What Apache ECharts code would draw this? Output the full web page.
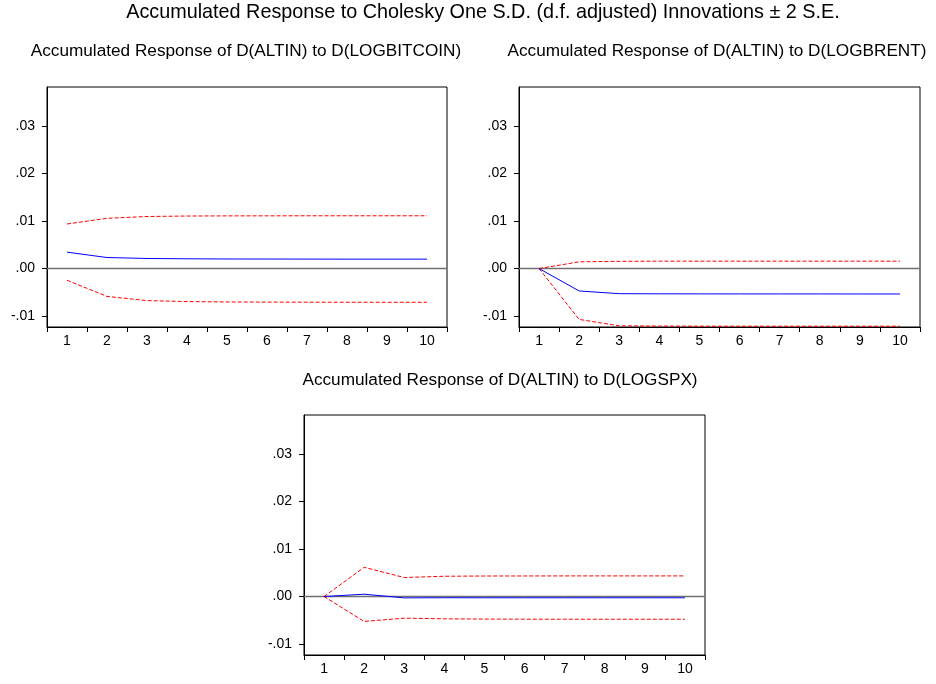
<!DOCTYPE html>
<html>
<head>
<meta charset="utf-8">
<script src="https://cdn.jsdelivr.net/npm/echarts@6/dist/echarts.min.js"></script>
<style>
html,body{margin:0;padding:0;background:#fff;}
#chart{width:936px;height:684px;}
</style>
</head>
<body>
<div id="chart"></div>
<script>
// ---- Data ----
var categories = ['1','2','3','4','5','6','7','8','9','10'];
var yTickValues = [-0.01, 0, 0.01, 0.02, 0.03];
var yTickLabels = ['-.01', '.00', '.01', '.02', '.03'];

var mainTitle = 'Accumulated Response to Cholesky One S.D. (d.f. adjusted) Innovations \u00b1 2 S.E.';
var panelTitles = [
  'Accumulated Response of D(ALTIN) to D(LOGBITCOIN)',
  'Accumulated Response of D(ALTIN) to D(LOGBRENT)',
  'Accumulated Response of D(ALTIN) to D(LOGSPX)'
];

// Panel 1: D(LOGBITCOIN)
var btcResp  = [0.00345, 0.00232, 0.00212, 0.00205, 0.00201, 0.00200, 0.00199, 0.00198, 0.00198, 0.00198];
var btcUpper = [0.00937, 0.01057, 0.01095, 0.01105, 0.01108, 0.01109, 0.01110, 0.01110, 0.01110, 0.01110];
var btcLower = [-0.00247, -0.00586, -0.00675, -0.00695, -0.00703, -0.00706, -0.00708, -0.00709, -0.00710, -0.00710];

// Panel 2: D(LOGBRENT)
var brentResp  = [0, -0.00472, -0.00529, -0.00532, -0.00533, -0.00534, -0.00534, -0.00534, -0.00535, -0.00535];
var brentUpper = [0, 0.00141, 0.00152, 0.00155, 0.00155, 0.00155, 0.00155, 0.00155, 0.00155, 0.00155];
var brentLower = [0, -0.01070, -0.01205, -0.01210, -0.01212, -0.01213, -0.01213, -0.01213, -0.01213, -0.01213];

// Panel 3: D(LOGSPX)
var spxResp  = [0, 0.00049, -0.00028, -0.00025, -0.00026, -0.00026, -0.00026, -0.00026, -0.00026, -0.00026];
var spxUpper = [0, 0.00615, 0.00400, 0.00427, 0.00432, 0.00433, 0.00434, 0.00434, 0.00434, 0.00434];
var spxLower = [0, -0.00524, -0.00455, -0.00469, -0.00474, -0.00476, -0.00477, -0.00477, -0.00477, -0.00477];

var yMin = -0.0123, yMax = 0.0382;

// ---- Layout ----
var FONT = '"Liberation Sans", Arial, sans-serif';
var grids = [
  {left: 47,  top: 87,  width: 400, height: 240},
  {left: 519, top: 87,  width: 401, height: 240},
  {left: 304, top: 415, width: 401, height: 240}
];
var panels = [
  {resp: btcResp, upper: btcUpper, lower: btcLower},
  {resp: brentResp, upper: brentUpper, lower: brentLower},
  {resp: spxResp, upper: spxUpper, lower: spxLower}
];

function fmt(v) {
  var i = yTickValues.indexOf(Math.round(v * 1000) / 1000);
  if (i >= 0) return yTickLabels[i];
  return '';
}

var option = {
  animation: false,
  backgroundColor: '#fff',
  graphic: [
    {type: 'text', x: 483, y: 13, style: {text: mainTitle, font: '19.8px ' + FONT, fill: '#000', align: 'center', verticalAlign: 'middle'}},
    {type: 'text', x: 246, y: 51, style: {text: panelTitles[0], font: '17.2px ' + FONT, fill: '#000', align: 'center', verticalAlign: 'middle'}},
    {type: 'text', x: 717, y: 51, style: {text: panelTitles[1], font: '17.2px ' + FONT, fill: '#000', align: 'center', verticalAlign: 'middle'}},
    {type: 'text', x: 500, y: 380, style: {text: panelTitles[2], font: '17.2px ' + FONT, fill: '#000', align: 'center', verticalAlign: 'middle'}}
  ],
  grid: grids.map(function (g) {
    return {left: g.left, top: g.top, width: g.width, height: g.height, show: true,
      borderColor: '#000', borderWidth: 1, backgroundColor: 'transparent',
      containLabel: false, outerBoundsMode: 'none'};
  }),
  xAxis: grids.map(function (g, i) {
    return {
      type: 'category', gridIndex: i, data: categories, boundaryGap: true, position: 'bottom',
      axisLine: {show: true, onZero: false, lineStyle: {color: '#000', width: 1}},
      axisTick: {show: true, inside: false, length: 5, alignWithLabel: false, interval: 0, lineStyle: {color: '#000'}},
      axisLabel: {show: true, interval: 0, margin: 7, color: '#000', fontSize: 14, fontFamily: FONT},
      splitLine: {show: false}
    };
  }),
  yAxis: grids.map(function (g, i) {
    return {
      type: 'value', gridIndex: i, min: yMin, max: yMax, position: 'left',
      axisLine: {show: true, onZero: false, lineStyle: {color: '#000', width: 1}},
      axisTick: {show: true, inside: false, length: 5, customValues: yTickValues, lineStyle: {color: '#000'}},
      axisLabel: {show: true, margin: 12, color: '#000', fontSize: 14, fontFamily: FONT,
        customValues: yTickValues, formatter: fmt},
      splitLine: {show: false}
    };
  }),
  series: []
};

panels.forEach(function (p, i) {
  option.series.push({
    type: 'line', xAxisIndex: i, yAxisIndex: i, data: p.upper,
    symbol: 'none', showSymbol: false,
    lineStyle: {color: '#ff0000', width: 1, type: [4, 2]}, z: 3
  });
  option.series.push({
    type: 'line', xAxisIndex: i, yAxisIndex: i, data: p.lower,
    symbol: 'none', showSymbol: false,
    lineStyle: {color: '#ff0000', width: 1, type: [4, 2]}, z: 3
  });
  option.series.push({
    type: 'line', xAxisIndex: i, yAxisIndex: i, data: p.resp,
    symbol: 'none', showSymbol: false,
    lineStyle: {color: '#0000ff', width: 1}, z: 4,
    markLine: {
      silent: true, symbol: ['none', 'none'], label: {show: false},
      lineStyle: {color: '#707070', width: 1.3, type: 'solid'},
      emphasis: {disabled: true},
      data: [{yAxis: 0}], z: 2
    }
  });
});

var chart = echarts.init(document.getElementById('chart'), null, {renderer: 'canvas'});
chart.setOption(option);
</script>
</body>
</html>
